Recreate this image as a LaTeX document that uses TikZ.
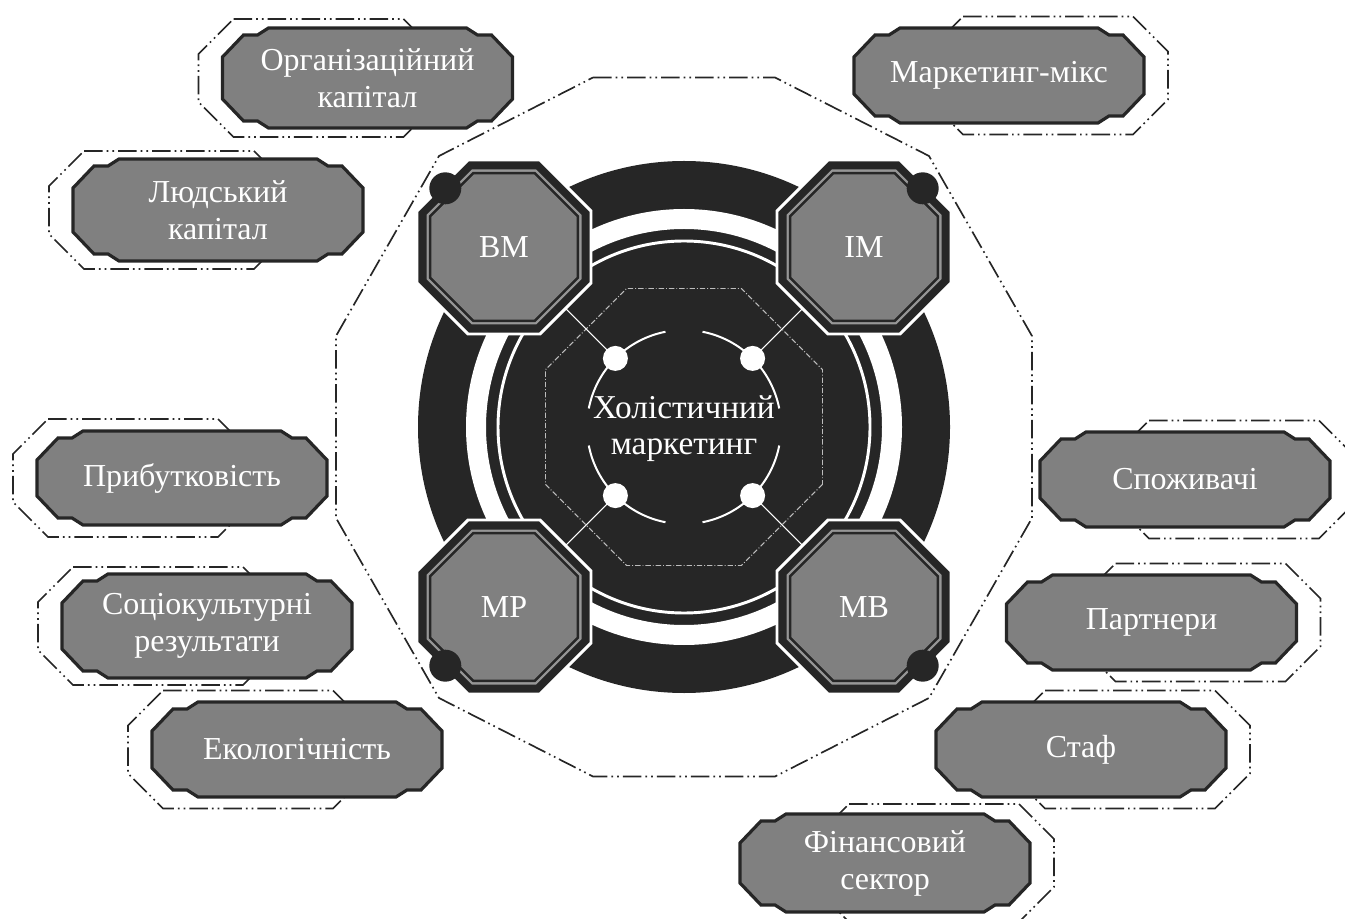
\documentclass[tikz,border=0pt]{standalone}
\usepackage{fontspec}
\setmainfont{Liberation Serif}
\definecolor{ink}{HTML}{262626}
\definecolor{boxgray}{HTML}{808080}
\definecolor{rimgray}{HTML}{969696}
\definecolor{dashgray}{HTML}{BDBDBD}

% regular octagon (flat top) with the given inradius, around the current origin
\newcommand\octpath[1]{(22.5:{#1*1.082392}) -- (67.5:{#1*1.082392}) -- (112.5:{#1*1.082392}) -- (157.5:{#1*1.082392}) -- (202.5:{#1*1.082392}) -- (247.5:{#1*1.082392}) -- (292.5:{#1*1.082392}) -- (337.5:{#1*1.082392}) -- cycle}

\tikzset{
  ddotline/.style={draw=ink, line width=1.25pt,
    dash pattern=on 14pt off 3pt on 1.25pt off 3pt on 1.25pt off 3pt},
  boxshape/.style={fill=boxgray, draw=ink, line width=2.4pt, line join=miter},
  boxtext/.style={text=white, font=\fontsize{24}{27.75}\selectfont, align=center, inner sep=0pt},
  octtext/.style={text=white, font=\fontsize{24}{27}\selectfont, inner sep=0pt},
  hubtext/.style={text=white, font=\fontsize{25}{27}\selectfont, align=center, inner sep=0pt},
  spoke/.style={draw=white, line width=0.8pt},
}

% labelled box: name, centre x, centre y, half height, side of the dotted frame (-1 left, 1 right), text
\newcommand\tagbox[6]{%
  \begin{scope}[shift={(#2,#3)}]
    \path[ddotline] ({#5*49-85},-59) -- ({#5*49+85},-59) -- ({#5*49+120},-24) -- ({#5*49+120},24)
      -- ({#5*49+85},59) -- ({#5*49-85},59) -- ({#5*49-120},24) -- ({#5*49-120},-24) -- cycle;
    \path[boxshape] (-99,-#4) -- (99,-#4) -- (110,{-#4+7}) -- (124,{-#4+7}) -- (145,{-#4+29})
      -- (145,{#4-29}) -- (124,{#4-7}) -- (110,{#4-7}) -- (99,#4) -- (-99,#4)
      -- (-110,{#4-7}) -- (-124,{#4-7}) -- (-145,{#4-29}) -- (-145,{-#4+29})
      -- (-124,{-#4+7}) -- (-110,{-#4+7}) -- cycle;
    \node[boxtext] (#1) at (0,0) {#6};
  \end{scope}}

% corner octagon of the hub: name, centre x, centre y, label, angle of the outer dot
\newcommand\hubocto[5]{%
  \begin{scope}[shift={(#2,#3)}]
    \path[fill=ink, draw=white, line width=2.2pt] \octpath{87};
    \fill[rimgray] \octpath{77.5};
    \fill[ink] \octpath{75.2};
    \fill[boxgray] \octpath{72.6};
    \fill[ink] (#5:83) circle[radius=16];
    \node[octtext] (#1) at (0,0) {#4};
  \end{scope}}

\begin{document}
\begin{tikzpicture}[x=0.75pt,y=-0.75pt]
\useasboundingbox (0,0) rectangle (1345,919);
\coordinate (C) at (684,427);

% outer dotted frame of the hub
\path[ddotline, shift={(684,427)}] (-91,-349.5) -- (91,-349.5) -- (245,-271) -- (348,-91) -- (348,91)
  -- (245,271) -- (91,349.5) -- (-91,349.5) -- (-245,271) -- (-348,91) -- (-348,-91) -- (-245,-271) -- cycle;

% hub disc and its white rings
\fill[ink] (C) circle[radius=266];
\fill[white, even odd rule] (C) circle[radius=218] (C) circle[radius=198];
\draw[white, line width=2.2pt] (C) circle[radius=186];

% four corner octagons
\hubocto{bm}{504}{247}{BM}{225}
\hubocto{im}{864}{247}{IM}{315}
\hubocto{mp}{504}{607}{MP}{135}
\hubocto{mb}{864}{607}{MB}{45}

% inner dash-dot octagon
\draw[dashgray, line width=0.7pt, dash pattern=on 4pt off 1.5pt on 0.7pt off 1.5pt, shift={(684,427)}] \octpath{138.5};

% spokes, arcs and white dots
\foreach \a/\n in {225/bm, 315/im, 135/mp, 45/mb}{
  \coordinate (d\n) at ([shift={(684,427)}]\a:97);
  \coordinate (e\n) at ([shift={(684,427)}]\a:167.6);
  \draw[spoke] (d\n) -- (e\n);
}
\foreach \s in {11,101,191,281}{
  \draw[white, line width=1.5pt, shift={(684,427)}] (\s:97) arc[start angle=\s, end angle=\s+68, radius=97];
}
\foreach \n in {bm,im,mp,mb}{ \fill[white] (d\n) circle[radius=12.5]; }

\node[hubtext] (hm) at (684,429) {Холістичний\\маркетинг};

% surrounding boxes
\tagbox{org}{367.5}{78}{50}{-1}{Організаційний\\капітал}
\tagbox{mix}{999}{75.5}{47.5}{1}{Маркетинг-мікс}
\tagbox{hum}{218}{210}{51}{-1}{Людський\\капітал}
\tagbox{prof}{182}{478}{47}{-1}{Прибутковість}
\tagbox{soc}{207}{626}{52}{-1}{Соціокультурні\\результати}
\tagbox{eco}{297}{749.5}{47.5}{-1}{Екологічність}
\tagbox{cons}{1185}{479.5}{47.5}{1}{Споживачі}
\tagbox{part}{1151.5}{622.5}{47.5}{1}{Партнери}
\tagbox{staff}{1081}{749.5}{47.5}{1}{Стаф}
\tagbox{fin}{885}{863}{49}{1}{Фінансовий\\сектор}
\end{tikzpicture}
\end{document}
